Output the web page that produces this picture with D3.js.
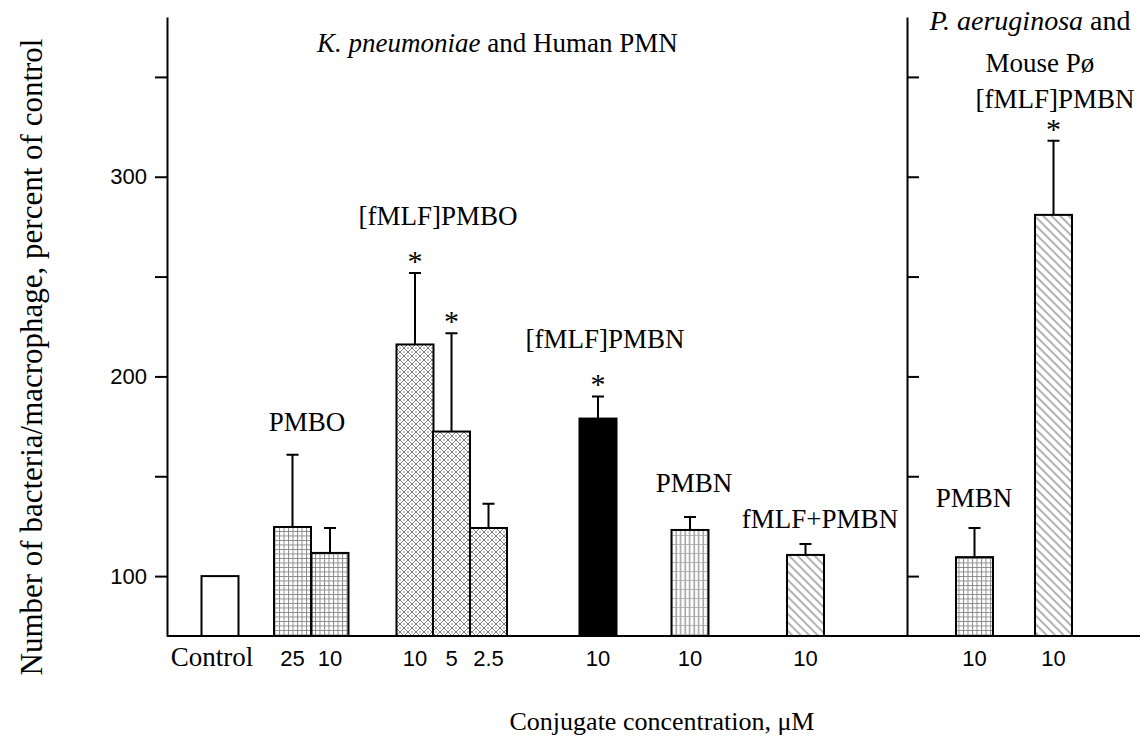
<!DOCTYPE html>
<html>
<head>
<meta charset="utf-8">
<script src="https://cdn.jsdelivr.net/npm/d3@7"></script>
<style>
  body { margin: 0; background: #fff; }
  svg { display: block; }
  .serif { font-family: "Liberation Serif", "Times New Roman", serif; }
  .sans { font-family: "Liberation Sans", Arial, sans-serif; }
</style>
</head>
<body>
<div id="chart"></div>
<script>
// Bars, left to right
const barIds = ["control", "pmbo25", "pmbo10", "fpmbo10", "fpmbo5", "fpmbo2_5",
                "fpmbn10", "pmbn10", "fmlfpmbn10", "mpmbn10", "mfpmbn10"];
const tickLabels = ["Control", "25", "10", "10", "5", "2.5", "10", "10", "10", "10", "10"];
const values = [100, 124.6, 111.6, 216, 172.4, 124.1, 178.9, 123.1, 110.6, 109.5, 280.9];
const errTops = [null, 160.8, 124.1, 251.8, 221.6, 136.2, 190, 129.6, 116.1, 124.1, 318];
const significant = [false, false, false, true, true, false, true, false, false, false, true];
const yTicks = [100, 150, 200, 250, 300, 350];

// Layout only: bar centre positions and fill style per bar
const barCenters = [220, 292.5, 330, 415, 451.5, 488.5, 598, 690, 805.5, 974.5, 1053.5];
const barFills = ["#fff", "url(#grid)", "url(#grid)", "url(#diamond)", "url(#diamond)", "url(#diamond)",
                  "#000", "url(#vstripe)", "url(#hatch)", "url(#grid)", "url(#hatch)"];

const width = 1144, height = 740;
const left = 167, right = 1140, divider = 907;
const barW = 37;

const svg = d3.select("#chart").append("svg")
    .attr("width", width)
    .attr("height", height);

// Fill patterns
const defs = svg.append("defs");

const grid = defs.append("pattern").attr("id", "grid")
    .attr("patternUnits", "userSpaceOnUse").attr("width", 4.5).attr("height", 4.5);
grid.append("rect").attr("width", 4.5).attr("height", 4.5).attr("fill", "#fff");
grid.append("path").attr("d", "M0,0.5H4.5M0.5,0V4.5")
    .attr("stroke", "#8a8a8a").attr("stroke-width", 1);

const diamond = defs.append("pattern").attr("id", "diamond")
    .attr("patternUnits", "userSpaceOnUse").attr("width", 8).attr("height", 8);
diamond.append("rect").attr("width", 8).attr("height", 8).attr("fill", "#fff");
diamond.append("path").attr("d", "M0,0L8,8M8,0L0,8")
    .attr("stroke", "#7a7a7a").attr("stroke-width", 1);
[[4, 0], [4, 8], [0, 4], [8, 4]].forEach(([cx, cy]) => {
    diamond.append("circle").attr("cx", cx).attr("cy", cy).attr("r", 0.8).attr("fill", "#777");
});

const vstripe = defs.append("pattern").attr("id", "vstripe")
    .attr("patternUnits", "userSpaceOnUse").attr("width", 4.5).attr("height", 9);
vstripe.append("rect").attr("width", 4.5).attr("height", 9).attr("fill", "#fff");
vstripe.append("path").attr("d", "M1.2,0V9")
    .attr("stroke", "#999").attr("stroke-width", 1.4);
vstripe.append("path").attr("d", "M0,4.5H4.5")
    .attr("stroke", "#aaa").attr("stroke-width", 0.8);

const hatch = defs.append("pattern").attr("id", "hatch")
    .attr("patternUnits", "userSpaceOnUse").attr("width", 8).attr("height", 6)
    .attr("patternTransform", "rotate(45)");
hatch.append("rect").attr("width", 8).attr("height", 6).attr("fill", "#fff");
hatch.append("path").attr("d", "M0,3H8")
    .attr("stroke", "#555").attr("stroke-width", 0.9);

// Scales
const y = d3.scaleLinear().domain([70, 380]).range([636, 17]);
const x = d3.scaleOrdinal().domain(barIds).range(barCenters);

// Left axis
svg.append("g")
    .attr("transform", `translate(${left},0)`)
    .call(d3.axisLeft(y)
        .tickValues(yTicks)
        .tickFormat(d => d % 100 === 0 ? d : "")
        .tickSize(12)
        .tickPadding(8)
        .tickSizeOuter(0))
    .call(g => g.selectAll("line, path").attr("stroke", "#000").attr("stroke-width", 2))
    .call(g => g.selectAll("text")
        .attr("class", "sans")
        .style("font-size", "22px")
        .attr("fill", "#000"));

// Divider axis between the two panels
svg.append("g")
    .attr("transform", `translate(${divider},0)`)
    .call(d3.axisRight(y)
        .tickValues(yTicks)
        .tickFormat("")
        .tickSize(12)
        .tickSizeOuter(0))
    .call(g => g.selectAll("line, path").attr("stroke", "#000").attr("stroke-width", 2));

// Bars
const bars = barIds.map((id, i) => ({
    id, value: values[i], err: errTops[i], sig: significant[i], label: tickLabels[i], fill: barFills[i]
}));

svg.selectAll(".bar")
    .data(bars)
    .enter()
    .append("rect")
    .attr("class", "bar")
    .attr("x", d => x(d.id) - barW / 2)
    .attr("width", barW)
    .attr("y", d => y(d.value))
    .attr("height", d => y(70) - y(d.value))
    .attr("fill", d => d.fill)
    .attr("stroke", "#000")
    .attr("stroke-width", 2);

// Upper error bars
const withErr = bars.filter(d => d.err !== null);
svg.selectAll(".err")
    .data(withErr)
    .enter()
    .append("path")
    .attr("class", "err")
    .attr("d", d => `M${x(d.id)},${y(d.value)}V${y(d.err)}M${x(d.id) - 6},${y(d.err)}H${x(d.id) + 6}`)
    .attr("stroke", "#000")
    .attr("stroke-width", 2)
    .attr("fill", "none");

// Significance stars
svg.selectAll(".star")
    .data(bars.filter(d => d.sig))
    .enter()
    .append("text")
    .attr("class", "serif star")
    .attr("x", d => x(d.id))
    .attr("y", d => y(d.err) - 2)
    .attr("text-anchor", "middle")
    .style("font-size", "30px")
    .text("*");

// Baseline
svg.append("line")
    .attr("x1", left).attr("x2", right)
    .attr("y1", y(70)).attr("y2", y(70))
    .attr("stroke", "#000").attr("stroke-width", 2);

// Concentration labels under bars
svg.selectAll(".xlab")
    .data(bars)
    .enter()
    .append("text")
    .attr("class", d => d.id === "control" ? "serif xlab" : "sans xlab")
    .attr("x", d => d.id === "control" ? x(d.id) - 8 : x(d.id))
    .attr("y", 666)
    .attr("text-anchor", "middle")
    .style("font-size", d => d.id === "control" ? "27px" : "22px")
    .text(d => d.label);

// Group labels
const groupLabels = [
    {text: "PMBO", x: 307, y: 431},
    {text: "[fMLF]PMBO", x: 438, y: 225},
    {text: "[fMLF]PMBN", x: 605, y: 348},
    {text: "PMBN", x: 694, y: 492},
    {text: "fMLF+PMBN", x: 820, y: 528},
    {text: "Mouse Pø", x: 1040, y: 72},
    {text: "[fMLF]PMBN", x: 1055, y: 108},
    {text: "PMBN", x: 974, y: 507}
];
svg.selectAll(".glab")
    .data(groupLabels)
    .enter()
    .append("text")
    .attr("class", "serif glab")
    .attr("x", d => d.x)
    .attr("y", d => d.y)
    .attr("text-anchor", "middle")
    .style("font-size", "27px")
    .text(d => d.text);

// Panel titles
const t1 = svg.append("text")
    .attr("class", "serif")
    .attr("x", 317).attr("y", 52)
    .style("font-size", "27px");
t1.append("tspan").style("font-style", "italic").text("K. pneumoniae");
t1.append("tspan").text(" and Human PMN");

const t2 = svg.append("text")
    .attr("class", "serif")
    .attr("x", 1030).attr("y", 30)
    .attr("text-anchor", "middle")
    .style("font-size", "28px");
t2.append("tspan").style("font-style", "italic").text("P. aeruginosa");
t2.append("tspan").text(" and");

// Axis titles
svg.append("text")
    .attr("class", "serif")
    .attr("transform", "translate(42,357) rotate(-90)")
    .attr("text-anchor", "middle")
    .style("font-size", "31px")
    .text("Number of bacteria/macrophage, percent of control");

svg.append("text")
    .attr("class", "serif")
    .attr("x", 662).attr("y", 730)
    .attr("text-anchor", "middle")
    .style("font-size", "26px")
    .text("Conjugate concentration, μM");
</script>
</body>
</html>
